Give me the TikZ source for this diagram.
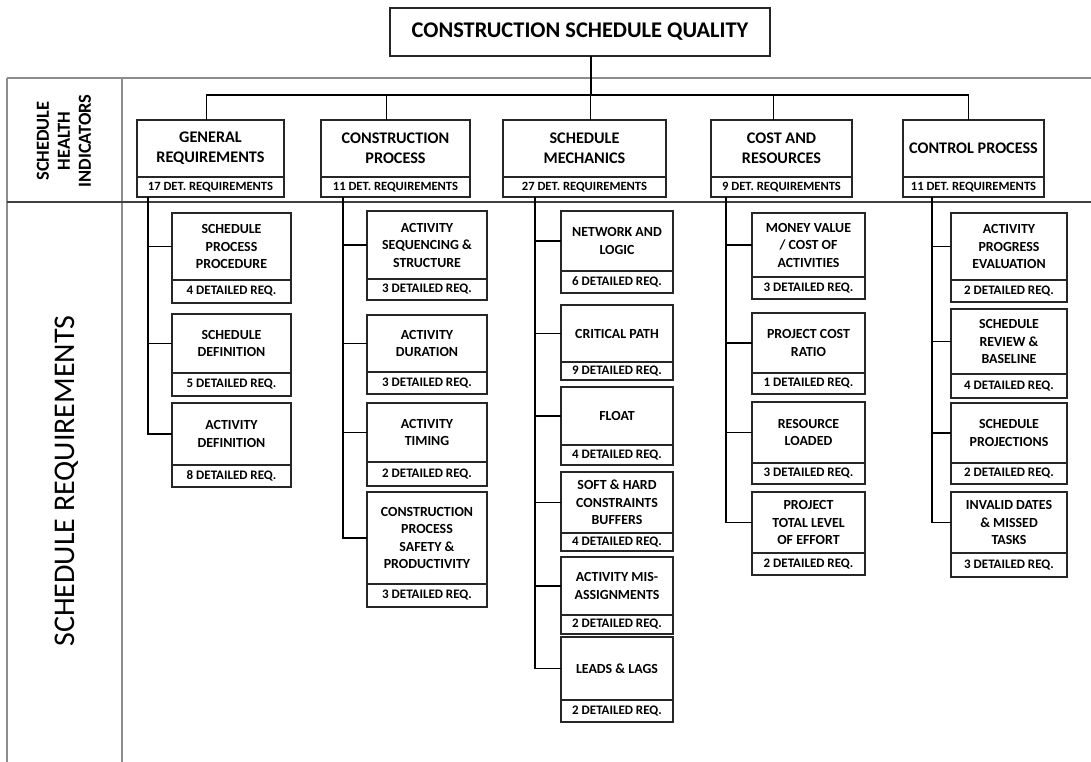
\documentclass[tikz,border=0pt]{standalone}
\usepackage{fontspec}
\setmainfont{Carlito}
\usetikzlibrary{positioning}

\tikzset{
  box/.style={draw=black!85, line width=1.1pt, fill=white, align=center,
    inner sep=0pt, outer sep=0pt},
  titlebox/.style={box, line width=1.6pt, font=\bfseries\fontsize{22.4}{24}\selectfont},
  grpbox/.style={box, font=\bfseries\fontsize{16.2}{20}\selectfont},
  grpdet/.style={box, font=\bfseries\fontsize{12.6}{14}\selectfont},
  subbox/.style={box, font=\bfseries\fontsize{13.9}{17.5}\selectfont},
  subdet/.style={box, font=\bfseries\fontsize{13}{14}\selectfont},
  conn/.style={draw=black, line width=1.7pt},
  gridline/.style={draw=black!45, line width=1.6pt},
}

\begin{document}
\begin{tikzpicture}[x=1pt,y=-1pt]
  \useasboundingbox (0,0) rectangle (1091,762);

  % table frame
  \draw[gridline] (7,78) -- (1091,78);
  \draw[gridline] (7,78) -- (7,762);
  \draw[gridline] (122,78) -- (122,762);
  \draw[draw=black!75, line width=1.1pt] (7,202) -- (1091,202);

  \node[rotate=90, align=center, font=\bfseries\fontsize{18.4}{21}\selectfont]
    (health) at (64,141) {SCHEDULE\\HEALTH\\INDICATORS};
  \node[rotate=90, font=\fontsize{30}{32}\selectfont]
    (reqs) at (67,481) {SCHEDULE REQUIREMENTS};

  % top level
  \node[titlebox, minimum width=380, minimum height=48] (title) at (580,32)
    {CONSTRUCTION SCHEDULE QUALITY};
  \coordinate (bus) at (591,95);

  \foreach \g/\x/\w/\o/\so/\txt/\nb in {
      1/210.5/147/-4/11/{GENERAL\\REQUIREMENTS}/17,
      2/395.5/149/-9/22/{CONSTRUCTION\\PROCESS}/11,
      3/584.5/163/6/32/{SCHEDULE\\MECHANICS}/27,
      4/781.5/141/-8/15/{COST AND\\RESOURCES}/9,
      5/973.5/141/-5/29/{CONTROL PROCESS}/11}{
    \node[grpbox, minimum width=\w, minimum height=57] (g\g) at (\x,148.5) {\txt};
    \node[grpdet, minimum width=\w, minimum height=20, below=0pt of g\g] (gd\g)
      {\nb{} DET. REQUIREMENTS};
    \draw[conn] ([xshift=\o pt]g\g.north) |- (bus);
    \coordinate (s\g) at ([xshift=\so pt]gd\g.south west);
  }
  \draw[conn] (title.south -| bus) -- (bus);

  % general requirements
  \foreach \k/\yt/\yb/\yd/\txt/\nb in {
      1/213/280/303/{SCHEDULE\\PROCESS\\PROCEDURE}/4,
      2/314/373/396/{SCHEDULE\\DEFINITION}/5,
      3/403/465/487/{ACTIVITY\\DEFINITION}/8}{
    \node[subbox, minimum width=119, minimum height={\yb-\yt}] (c1\k)
      at (231.5,{(\yt+\yb)/2}) {\txt};
    \node[subdet, minimum width=119, minimum height={\yd-\yb}, below=0pt of c1\k]
      (c1\k d) {\nb{} DETAILED REQ.};
    \draw[conn] (s1) |- (c1\k.west);
  }

  % construction process
  \foreach \k/\yt/\yb/\yd/\txt/\nb in {
      1/211/279/300/{ACTIVITY\\SEQUENCING \&\\STRUCTURE}/3,
      2/315/372/394/{ACTIVITY\\DURATION}/3,
      3/403/462/486/{ACTIVITY\\TIMING}/2,
      4/492/584/607/{CONSTRUCTION\\PROCESS\\SAFETY \&\\PRODUCTIVITY}/3}{
    \node[subbox, minimum width=120, minimum height={\yb-\yt}] (c2\k)
      at (427,{(\yt+\yb)/2}) {\txt};
    \node[subdet, minimum width=120, minimum height={\yd-\yb}, below=0pt of c2\k]
      (c2\k d) {\nb{} DETAILED REQ.};
    \draw[conn] (s2) |- (c2\k.west);
  }

  % schedule mechanics
  \foreach \k/\yt/\yb/\yd/\txt/\nb in {
      1/211/271/293/{NETWORK AND\\LOGIC}/6,
      2/305/362/380/{CRITICAL PATH}/9,
      3/387/445/465/{FLOAT}/4,
      4/472/533/551/{SOFT \& HARD\\CONSTRAINTS\\BUFFERS}/4,
      5/557/615/634/{ACTIVITY MIS-\\ASSIGNMENTS}/2,
      6/637/700/722/{LEADS \& LAGS}/2}{
    \node[subbox, minimum width=112, minimum height={\yb-\yt}] (c3\k)
      at (617,{(\yt+\yb)/2}) {\txt};
    \node[subdet, minimum width=112, minimum height={\yd-\yb}, below=0pt of c3\k]
      (c3\k d) {\nb{} DETAILED REQ.};
    \draw[conn] (s3) |- (c3\k.west);
  }

  % cost and resources
  \foreach \k/\yt/\yb/\yd/\txt/\nb in {
      1/213/277/299/{MONEY VALUE\\/ COST OF\\ACTIVITIES}/3,
      2/313/373/394/{PROJECT COST\\RATIO}/1,
      3/402/463/484/{RESOURCE\\LOADED}/3,
      4/492/553/575/{PROJECT\\TOTAL LEVEL\\OF EFFORT}/2}{
    \node[subbox, minimum width=113, minimum height={\yb-\yt}] (c4\k)
      at (808.5,{(\yt+\yb)/2}) {\txt};
    \node[subdet, minimum width=113, minimum height={\yd-\yb}, below=0pt of c4\k]
      (c4\k d) {\nb{} DETAILED REQ.};
    \draw[conn] (s4) |- (c4\k.west);
  }

  % control process
  \foreach \k/\yt/\yb/\yd/\txt/\nb in {
      1/213/280/302/{ACTIVITY\\PROGRESS\\EVALUATION}/2,
      2/309/374/398/{SCHEDULE\\REVIEW \&\\BASELINE}/4,
      3/403/463/484/{SCHEDULE\\PROJECTIONS}/2,
      4/492/553/577/{INVALID DATES\\\& MISSED\\TASKS}/3}{
    \node[subbox, minimum width=116, minimum height={\yb-\yt}] (c5\k)
      at (1009,{(\yt+\yb)/2}) {\txt};
    \node[subdet, minimum width=116, minimum height={\yd-\yb}, below=0pt of c5\k]
      (c5\k d) {\nb{} DETAILED REQ.};
    \draw[conn] (s5) |- (c5\k.west);
  }

\end{tikzpicture}
\end{document}
